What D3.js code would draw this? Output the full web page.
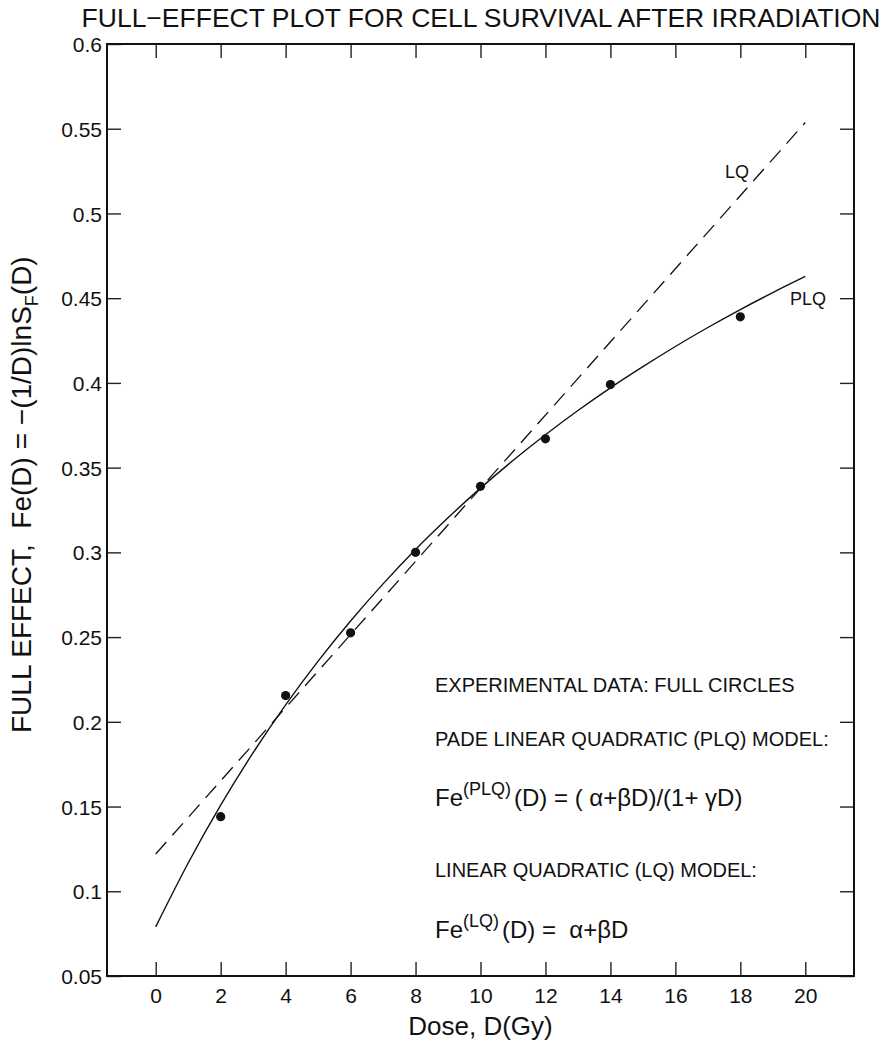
<!DOCTYPE html>
<html>
<head>
<meta charset="utf-8">
<script src="https://cdn.jsdelivr.net/npm/d3@7"></script>
<style>
  html, body { margin: 0; padding: 0; background: #fff; }
  svg { display: block; font-family: "Liberation Sans", Arial, Helvetica, sans-serif; }
</style>
</head>
<body>
<svg id="chart" width="887" height="1044"></svg>
<script>
// ---- data ----
const doseExp = [2, 4, 6, 8, 10, 12, 14, 18];
const feExp   = [0.144, 0.2155, 0.2525, 0.300, 0.339, 0.367, 0.399, 0.439];

// PLQ fitted curve at each Gy
const dosePLQ = [0, 1, 2, 3, 4, 5, 6, 7, 8, 9, 10, 11, 12, 13, 14, 15, 16, 17, 18, 19, 20];
const fePLQ   = [0.079, 0.1167, 0.1508, 0.1818, 0.2100, 0.2358, 0.2595, 0.2814, 0.3017, 0.3204,
                 0.3379, 0.3542, 0.3694, 0.3837, 0.3971, 0.4096, 0.4215, 0.4327, 0.4433, 0.4533, 0.4628];

// LQ straight line (end points)
const doseLQ = [0, 20];
const feLQ   = [0.122, 0.5537];

const xTicks = [0, 2, 4, 6, 8, 10, 12, 14, 16, 18, 20];
const yTicks = [0.05, 0.1, 0.15, 0.2, 0.25, 0.3, 0.35, 0.4, 0.45, 0.5, 0.55, 0.6];
const yTickLabels = ["0.05", "0.1", "0.15", "0.2", "0.25", "0.3", "0.35", "0.4", "0.45", "0.5", "0.55", "0.6"];

const titleText = "FULL\u2212EFFECT PLOT FOR CELL SURVIVAL AFTER IRRADIATION";
const xLabelText = "Dose, D(Gy)";

// ---- layout ----
const svg = d3.select("#chart");
const L = 107, R = 854, T = 44, B = 976;

const x = d3.scaleLinear().domain([-1.5, 21.5]).range([L, R]);
const y = d3.scaleLinear().domain([0.05, 0.6]).range([B, T]);

const tickLen = 14;

// axes with inward ticks
const gB = svg.append("g").attr("transform", `translate(0,${B})`)
  .call(d3.axisBottom(x).tickValues(xTicks).tickSizeInner(-tickLen).tickSizeOuter(0).tickPadding(tickLen + 9).tickFormat(d3.format("d")));
const gT = svg.append("g").attr("transform", `translate(0,${T})`)
  .call(d3.axisTop(x).tickValues(xTicks).tickSizeInner(-tickLen).tickSizeOuter(0).tickFormat(""));
const gL = svg.append("g").attr("transform", `translate(${L},0)`)
  .call(d3.axisLeft(y).tickValues(yTicks).tickSizeInner(-tickLen).tickSizeOuter(0).tickPadding(5)
    .tickFormat((d, i) => yTickLabels[i]));
const gR = svg.append("g").attr("transform", `translate(${R},0)`)
  .call(d3.axisRight(y).tickValues(yTicks).tickSizeInner(-tickLen).tickSizeOuter(0).tickFormat(""));

[gB, gT, gL, gR].forEach(g => {
  g.select(".domain").remove();
  g.selectAll(".tick line").attr("stroke", "#222").attr("stroke-width", 1.4);
  g.selectAll(".tick text").attr("fill", "#111").style("font-size", "21px")
    .style("font-family", "'Liberation Sans', Arial, sans-serif");
});
gB.selectAll(".tick text").attr("dy", "0.2em");
gL.selectAll(".tick text").attr("dy", "0.36em");

// frame
svg.append("rect").attr("x", L).attr("y", T).attr("width", R - L).attr("height", B - T)
  .attr("fill", "none").attr("stroke", "#111").attr("stroke-width", 2);

// lines
const line = d3.line().x(d => x(d[0])).y(d => y(d[1]));
svg.append("path")
  .datum(doseLQ.map((d, i) => [d, feLQ[i]]))
  .attr("d", line)
  .attr("fill", "none").attr("stroke", "#111").attr("stroke-width", 1.3)
  .attr("stroke-dasharray", "16,9");

svg.append("path")
  .datum(dosePLQ.map((d, i) => [d, fePLQ[i]]))
  .attr("d", line.curve(d3.curveMonotoneX))
  .attr("fill", "none").attr("stroke", "#111").attr("stroke-width", 1.4);

// points
svg.append("g").selectAll("circle")
  .data(doseExp.map((d, i) => [d, feExp[i]]))
  .join("circle")
  .attr("cx", d => x(d[0])).attr("cy", d => y(d[1])).attr("r", 4.6).attr("fill", "#111");

// curve labels
svg.append("text").attr("x", 725).attr("y", 178).style("font-size", "18px").attr("fill", "#111").text("LQ");
svg.append("text").attr("x", 790).attr("y", 305).style("font-size", "18px").attr("fill", "#111").text("PLQ");

// title
svg.append("text").attr("x", 481).attr("y", 27).attr("text-anchor", "middle")
  .style("font-size", "26.5px").attr("fill", "#111").text(titleText);

// x label
svg.append("text").attr("x", (L + R) / 2).attr("y", 1035).attr("text-anchor", "middle")
  .style("font-size", "26px").attr("fill", "#111").text(xLabelText);

// y label
const yl = svg.append("text").attr("transform", `translate(31,733) rotate(-90)`)
  .attr("text-anchor", "start").style("font-size", "28px").attr("fill", "#111");
yl.append("tspan").text("FULL EFFECT,\u00a0\u00a0Fe(D) = \u2212(1/D)lnS");
yl.append("tspan").attr("dy", 7).style("font-size", "18px").text("F");
yl.append("tspan").attr("dy", -7).text("(D)");

// annotations
const ax = 435;
svg.append("text").attr("x", ax).attr("y", 692).style("font-size", "20px").attr("fill", "#111")
  .text("EXPERIMENTAL DATA: FULL CIRCLES");
svg.append("text").attr("x", ax).attr("y", 746).style("font-size", "20px").attr("fill", "#111")
  .text("PADE LINEAR QUADRATIC (PLQ) MODEL:");
svg.append("text").attr("x", ax).attr("y", 877).style("font-size", "20px").attr("fill", "#111")
  .text("LINEAR QUADRATIC (LQ) MODEL:");

function formula(yb, sup, rest) {
  const t = svg.append("text").attr("x", ax).attr("y", yb).style("font-size", "24px").attr("fill", "#111");
  t.append("tspan").text("Fe");
  t.append("tspan").attr("dy", -11).style("font-size", "18px").text(sup);
  t.append("tspan").attr("dy", 11).attr("dx", 3).text(rest);
}
formula(806, "(PLQ)", "(D) = (\u00a0\u03b1+\u03b2D)/(1+\u00a0\u03b3D)");
formula(938, "(LQ)", "(D) =\u00a0\u00a0\u03b1+\u03b2D");
</script>
</body>
</html>
